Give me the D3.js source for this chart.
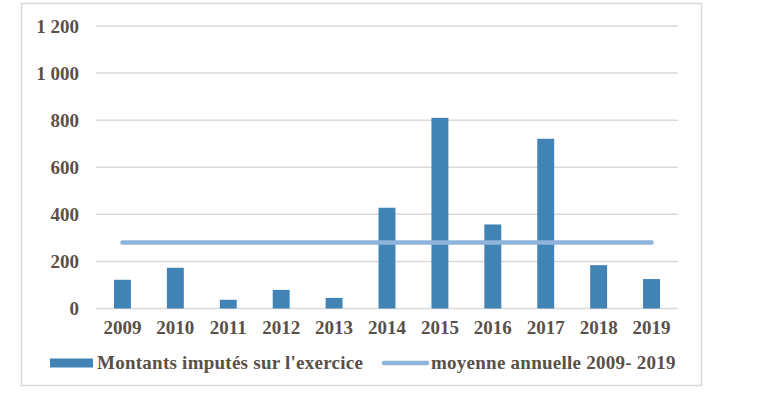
<!DOCTYPE html>
<html>
<head>
<meta charset="utf-8">
<script src="https://cdn.jsdelivr.net/npm/d3@7"></script>
<style>
  body { margin: 0; background: #fff; }
  text { font-family: "Liberation Serif", "Times New Roman", Tinos, "DejaVu Serif", serif; font-weight: bold; fill: #595049; }
  .legend text { letter-spacing: 0.25px; }
</style>
</head>
<body>
<div id="chart"></div>
<script>
// data
var years = ["2009", "2010", "2011", "2012", "2013", "2014", "2015", "2016", "2017", "2018", "2019"];
var montants = [122, 173, 37, 79, 45, 428, 810, 357, 721, 184, 125];
var moyenne = 280;
var yTicks = [0, 200, 400, 600, 800, 1000, 1200];
var legendLabels = ["Montants imputés sur l'exercice", "moyenne annuelle 2009- 2019"];

var svgWidth = 759, svgHeight = 393;
var margin = { top: 26, right: 81, bottom: 84.5, left: 96 };
var width = svgWidth - margin.left - margin.right;
var height = svgHeight - margin.top - margin.bottom;

var svg = d3.select("#chart").append("svg")
    .attr("width", svgWidth)
    .attr("height", svgHeight);

// outer frame
svg.append("rect")
    .attr("x", 21.5).attr("y", 3.5)
    .attr("width", 680).attr("height", 382)
    .attr("fill", "none")
    .attr("stroke", "#d9d9d9")
    .attr("stroke-width", 1.5);

var chartGroup = svg.append("g")
    .attr("transform", `translate(${margin.left}, ${margin.top})`);

var xScale = d3.scaleBand()
    .domain(years)
    .range([0, width])
    .paddingInner(0.68)
    .paddingOuter(0.34);

var yScale = d3.scaleLinear()
    .domain([0, 1200])
    .range([height, 0]);

// gridlines
chartGroup.append("g")
    .selectAll("line")
    .data(yTicks)
    .enter().append("line")
    .attr("x1", 0).attr("x2", width)
    .attr("y1", d => yScale(d)).attr("y2", d => yScale(d))
    .attr("stroke", "#d9d9d9")
    .attr("stroke-width", 1.5);

// y axis labels
var leftAxis = d3.axisLeft(yScale)
    .tickValues(yTicks)
    .tickSize(0)
    .tickPadding(17)
    .tickFormat(d => d3.format(",")(d).replace(",", " "));
var yAxis = chartGroup.append("g").call(leftAxis).attr("font-family", null);
yAxis.select(".domain").remove();
yAxis.selectAll("text").style("font-size", "19px").attr("dy", "0.34em");

// x axis labels
var bottomAxis = d3.axisBottom(xScale).tickSize(0).tickPadding(12);
var xAxis = chartGroup.append("g")
    .attr("transform", `translate(0, ${height})`)
    .call(bottomAxis).attr("font-family", null);
xAxis.select(".domain").remove();
xAxis.selectAll("text").style("font-size", "19px");

// bars
chartGroup.selectAll(".bar")
    .data(montants)
    .enter().append("rect")
    .attr("class", "bar")
    .attr("x", (d, i) => xScale(years[i]))
    .attr("width", xScale.bandwidth())
    .attr("y", d => yScale(d))
    .attr("height", d => height - yScale(d))
    .attr("fill", "#4183b4");

// average line
var half = xScale.bandwidth() / 2;
chartGroup.append("line")
    .attr("x1", xScale(years[0]) + half)
    .attr("x2", xScale(years[years.length - 1]) + half)
    .attr("y1", yScale(moyenne)).attr("y2", yScale(moyenne))
    .attr("stroke", "#8fb4db")
    .attr("stroke-width", 4.5)
    .attr("stroke-linecap", "round");

// legend
var legend = svg.append("g").attr("class", "legend").attr("transform", "translate(0, 363)");
legend.append("rect")
    .attr("x", 50).attr("y", -4.5)
    .attr("width", 43).attr("height", 9)
    .attr("fill", "#4183b4");
legend.append("text")
    .attr("x", 97).attr("dy", "0.34em")
    .style("font-size", "19px")
    .text(legendLabels[0]);
legend.append("line")
    .attr("x1", 384).attr("x2", 427)
    .attr("y1", 0).attr("y2", 0)
    .attr("stroke", "#8fb4db")
    .attr("stroke-width", 4.5)
    .attr("stroke-linecap", "round");
legend.append("text")
    .attr("x", 431).attr("dy", "0.34em")
    .style("font-size", "19px")
    .text(legendLabels[1]);
</script>
</body>
</html>
